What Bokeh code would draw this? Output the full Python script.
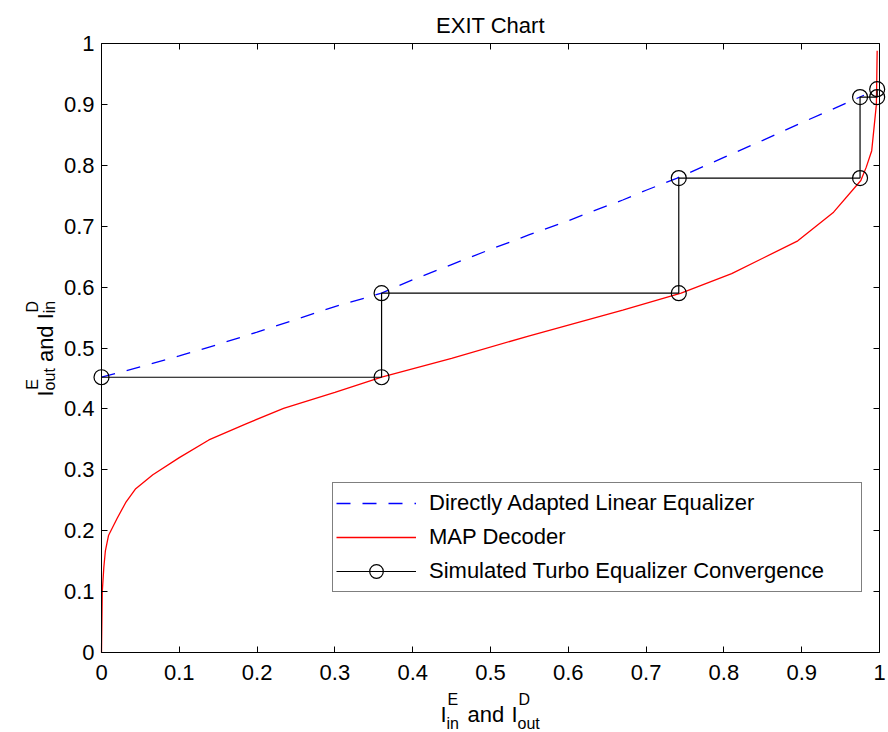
import math
from bokeh.plotting import figure
from bokeh.models import (Range1d, LinearAxis, FixedTicker, Label, Legend, LegendItem)
from bokeh.embed import file_html
from bokeh.resources import INLINE

# ---- data ----
eq_x = [0.0, 0.05, 0.1, 0.15, 0.2, 0.25, 0.3, 0.36, 0.4, 0.45, 0.5, 0.55, 0.6, 0.63,
        0.67, 0.7, 0.74, 0.8, 0.85, 0.9, 0.95, 0.98]
eq_y = [0.452, 0.469, 0.487, 0.506, 0.526, 0.547, 0.568, 0.590, 0.612, 0.637, 0.662,
        0.686, 0.709, 0.724, 0.743, 0.759, 0.779, 0.813, 0.841, 0.870, 0.898, 0.915]

dec_x = [0.0, 0.001, 0.003, 0.005, 0.009, 0.02, 0.031, 0.044, 0.066, 0.1, 0.138, 0.185,
         0.234, 0.3, 0.36, 0.45, 0.55, 0.67, 0.745, 0.81, 0.895, 0.941, 0.976, 0.983,
         0.99, 0.996, 0.997]
dec_y = [0.0, 0.1, 0.14, 0.167, 0.192, 0.22, 0.246, 0.269, 0.292, 0.32, 0.349, 0.375,
         0.401, 0.427, 0.452, 0.483, 0.52, 0.562, 0.59, 0.622, 0.676, 0.723, 0.775,
         0.797, 0.824, 0.90, 0.988]

turbo_x = [0.0, 0.36, 0.36, 0.742, 0.742, 0.975, 0.975, 0.997, 0.997]
turbo_y = [0.452, 0.452, 0.590, 0.590, 0.779, 0.779, 0.912, 0.912, 0.925]

tick_values = [0, 0.1, 0.2, 0.3, 0.4, 0.5, 0.6, 0.7, 0.8, 0.9, 1]
tick_labels = ["0", "0.1", "0.2", "0.3", "0.4", "0.5", "0.6", "0.7", "0.8", "0.9", "1"]

series_names = ["Directly Adapted Linear Equalizer", "MAP Decoder",
                "Simulated Turbo Equalizer Convergence"]
title_text = "EXIT Chart"

# ---- layout: the plotting frame fills the canvas; axes sit at fixed data locations ----
W, H = 888, 732
FL, FR, FT, FB = 101, 879, 43, 652          # pixel box of the axes
XW, YH = FR - FL, FB - FT

def px2x(px):
    return (px - FL) / XW

def px2y(py):
    return (FB - py) / YH

FONT = "Liberation Sans"
FS = "22px"
SUBFS = "16px"

p = figure(width=W, height=H, output_backend="svg", toolbar_location=None,
           title=None, x_range=Range1d(px2x(0), px2x(W)),
           y_range=Range1d(px2y(H), px2y(0)),
           min_border=0, min_border_left=0, min_border_right=0, min_border_top=0,
           min_border_bottom=0, x_axis_location=None, y_axis_location=None)
p.background_fill_color = "white"
p.border_fill_color = "white"
p.outline_line_color = None
p.xgrid.visible = False
p.ygrid.visible = False

overrides = {v: s for v, s in zip(tick_values, tick_labels)}

def make_axis(loc, show_labels, standoff):
    ax = LinearAxis(ticker=FixedTicker(ticks=tick_values),
                    major_label_overrides=overrides, fixed_location=loc,
                    bounds=(0, 1))
    ax.major_tick_in = 6
    ax.major_tick_out = 0
    ax.minor_tick_line_color = None
    ax.axis_line_color = "black"
    ax.axis_line_width = 1
    ax.major_tick_line_color = "black"
    ax.major_label_text_font = FONT
    ax.major_label_text_color = "black"
    ax.major_label_standoff = standoff
    if show_labels:
        ax.major_label_text_font_size = FS
    else:
        ax.major_label_text_font_size = "0px"
        ax.major_label_text_alpha = 0
    return ax

p.add_layout(make_axis(0, True, 12), "below")
p.add_layout(make_axis(0, True, 7), "left")
p.add_layout(make_axis(1, False, 0), "above")
p.add_layout(make_axis(1, False, 0), "right")

r_eq = p.line(eq_x, eq_y, line_color="#0000ff", line_width=1.3, line_dash="14 12")
r_dec = p.line(dec_x, dec_y, line_color="#ff0000", line_width=1.3)
r_tl = p.line(turbo_x, turbo_y, line_color="black", line_width=1.2)
r_tm = p.scatter(turbo_x, turbo_y, marker="circle", size=15, fill_color=None,
                 line_color="black", line_width=1.2)

legend = Legend(items=[
    LegendItem(label=series_names[0], renderers=[r_eq]),
    LegendItem(label=series_names[1], renderers=[r_dec]),
    LegendItem(label=series_names[2], renderers=[r_tl, r_tm]),
])
legend.location = (332, H - 592)
legend.margin = 0
legend.padding = 3
legend.spacing = 0
legend.glyph_width = 80
legend.glyph_height = 34
legend.label_height = 20
legend.label_standoff = 13
legend.label_width = 429
legend.label_text_font = FONT
legend.label_text_font_size = FS
legend.label_text_color = "black"
legend.border_line_color = "black"
legend.border_line_width = 1
legend.background_fill_color = "white"
legend.background_fill_alpha = 1
p.add_layout(legend, "center")

def lab(X, Y, text, size=FS, angle=0.0, align="left"):
    p.add_layout(Label(x=px2x(X), y=px2y(Y), text=text,
                       text_font=FONT, text_font_size=size, text_color="black",
                       text_align=align, text_baseline="alphabetic", angle=angle))

# title
lab((FL + FR) / 2, 25, title_text, align="center")

# x-axis label: I_in^E and I_out^D
lab(440, 714, "I")
lab(447, 699, "E", SUBFS)
lab(446, 723, "in", SUBFS)
lab(467, 714, "and")
lab(511, 714, "I")
lab(518, 699, "D", SUBFS)
lab(517, 723, "out", SUBFS)

# y-axis label: I_out^E and I_in^D (rotated, reading upwards)
ang = math.pi / 2
Y0 = 396
lab(45, Y0, "I", angle=ang)
lab(32, Y0 - 6.8, "E", SUBFS, angle=ang)
lab(49, Y0 - 6.1, "out", SUBFS, angle=ang)
lab(45, Y0 - 34.4, "and", angle=ang)
lab(45, Y0 - 77.2, "I", angle=ang)
lab(32, Y0 - 84.0, "D", SUBFS, angle=ang)
lab(49, Y0 - 83.3, "in", SUBFS, angle=ang)

open("out.html", "w").write(file_html(p, INLINE))
